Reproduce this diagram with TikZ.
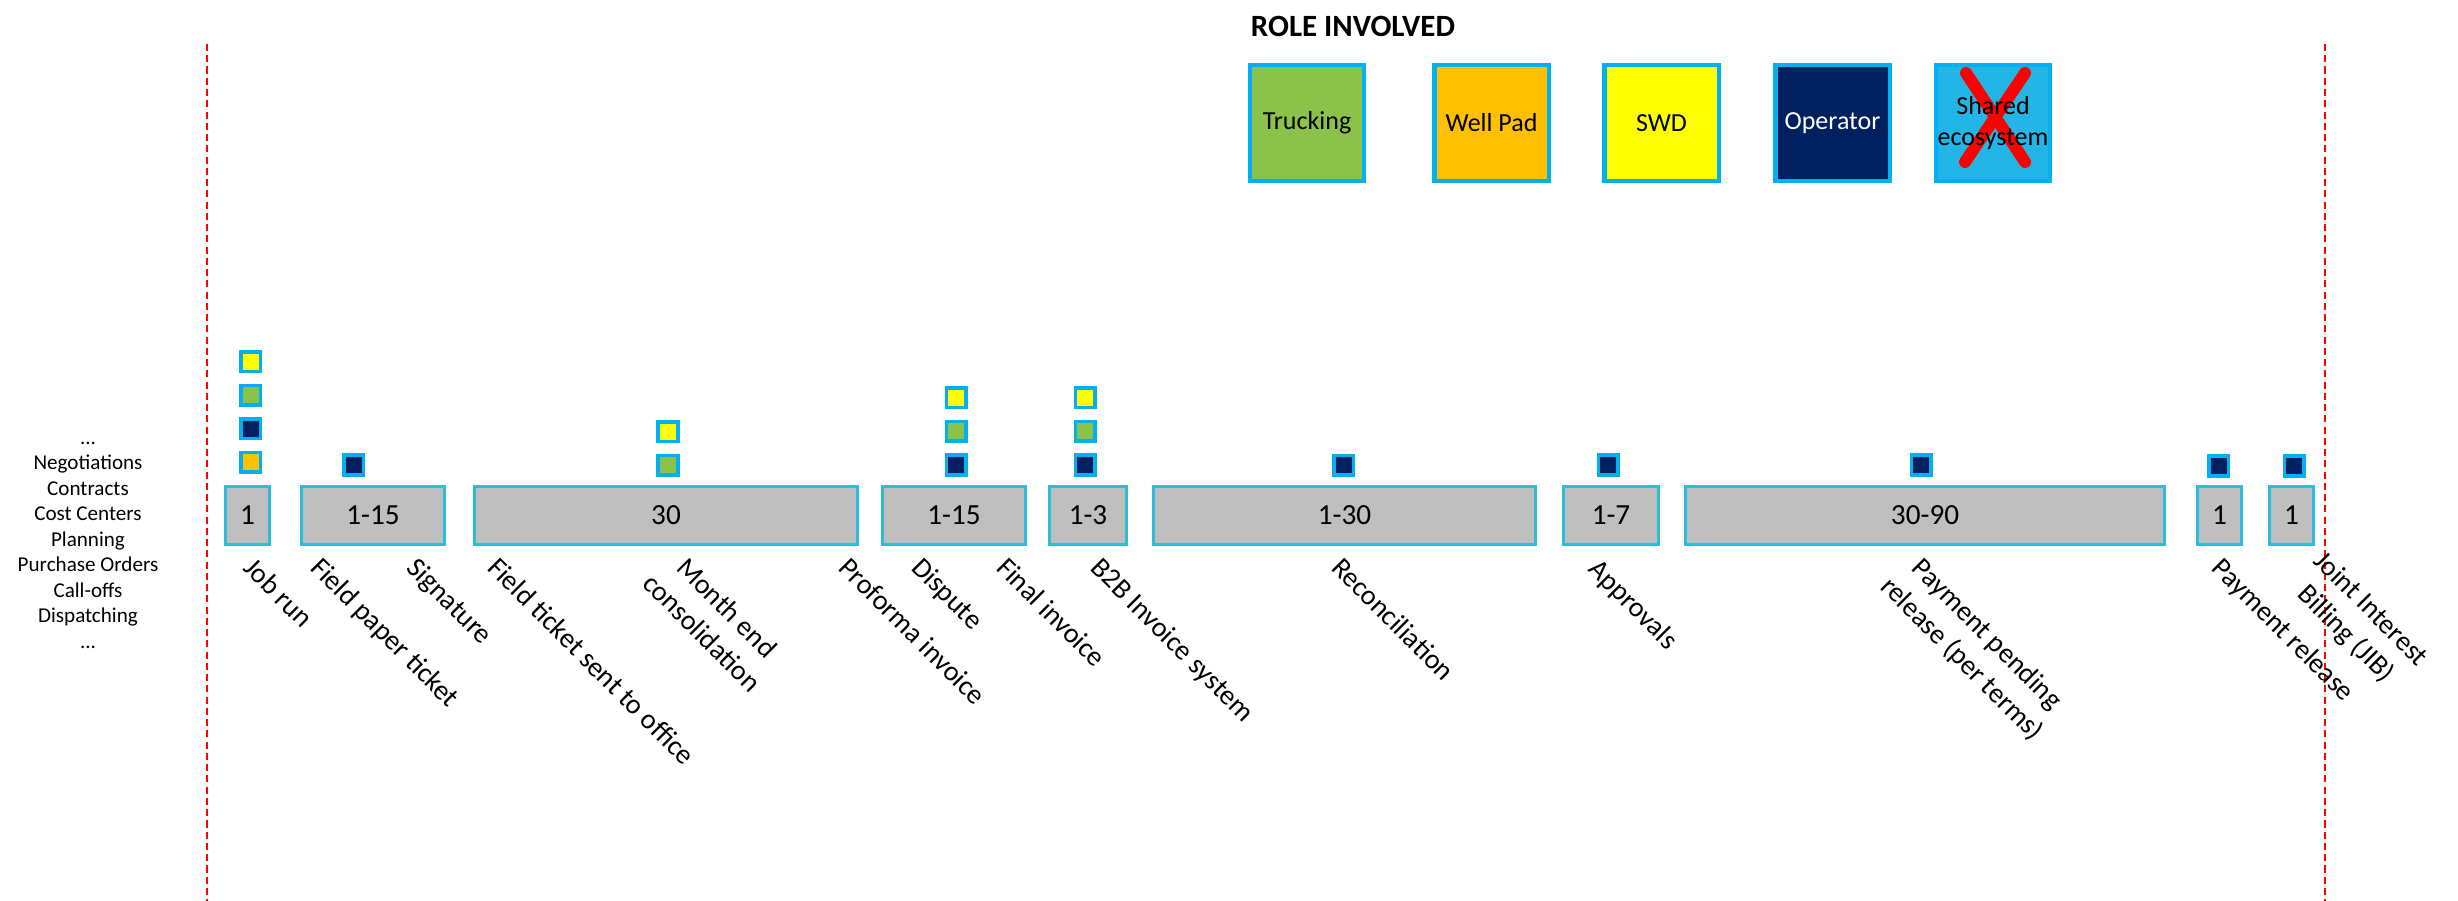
\documentclass[tikz,border=0pt]{standalone}
\usepackage{fontspec}
\setmainfont{Carlito}
\usetikzlibrary{positioning}

\definecolor{trucking}{RGB}{139,195,74}
\definecolor{wellpad}{RGB}{255,192,0}
\definecolor{swd}{RGB}{255,255,0}
\definecolor{operator}{RGB}{0,32,96}
\definecolor{rolecyan}{RGB}{0,176,240}
\definecolor{sharedfill}{RGB}{35,181,230}
\definecolor{bargray}{RGB}{191,191,191}
\definecolor{barcyan}{RGB}{43,190,214}

\begin{document}
\begin{tikzpicture}[x=0.01cm,y=-0.01cm,
  bar/.style={draw=barcyan,fill=bargray,line width=0.85pt,minimum height=0.58cm,
    inner sep=0pt,font=\fontsize{8.3}{10}\selectfont},
  role/.style={draw=rolecyan,line width=1pt,minimum size=0.195cm,inner sep=0pt},
  legend/.style={draw=rolecyan,line width=1.15pt,minimum width=1.14cm,
    minimum height=1.16cm,inner sep=0pt,align=center,font=\fontsize{7.4}{8.9}\selectfont},
  crossed/.style={path picture={
    \draw[red,line width=3.4pt,line cap=round]
      ([shift={(-27,-50)}]path picture bounding box.center) -- ([shift={(32,39)}]path picture bounding box.center);
    \draw[red,line width=3.4pt,line cap=round]
      ([shift={(32,-50)}]path picture bounding box.center) -- ([shift={(-28,39)}]path picture bounding box.center);}},
  steplabel/.style={rotate=-45,anchor=north west,inner sep=0pt,align=center,
    font=\fontsize{8}{10}\selectfont},
  guide/.style={red,line width=0.43pt,dash pattern=on 2pt off 1.2pt},
  node distance=0.105cm]
  \useasboundingbox (0,0) rectangle (2458,901);

  % legend
  \node(role title)[font=\bfseries\fontsize{8.8}{10}\selectfont] at (1353,26) {ROLE INVOLVED};
  \node(trucking)[legend,fill=trucking] at (1307,123) {Trucking};
  \node(well pad)[legend,fill=wellpad] at (1491.5,123) {Well Pad};
  \node(swd)[legend,fill=swd] at (1661.5,123) {SWD};
  \node(operator)[legend,fill=operator,text=white] at (1832.5,123) {Operator};
  \node(shared)[legend,fill=sharedfill,crossed] at (1993,123) {Shared\\ecosystem};

  % time frame
  \draw[guide] (207,44) -- (207,901);
  \draw[guide] (2325,44) -- (2325,901);

  \node(topics)[anchor=north,align=center,font=\fontsize{6}{7.25}\selectfont] at (88,414)
    {\strut...\\Negotiations\\Contracts\\Cost Centers\\Planning\\Purchase Orders\\Call-offs\\Dispatching\\...};

  % durations
  \node(run)[bar,minimum width=0.44cm] at (247.5,515.5) {1};
  \node(ticket)[bar,minimum width=1.43cm] at (373,515.5) {1-15};
  \node(month)[bar,minimum width=3.83cm] at (666,515.5) {30};
  \node(dispute)[bar,minimum width=1.43cm] at (954,515.5) {1-15};
  \node(b2b)[bar,minimum width=0.77cm] at (1088,515.5) {1-3};
  \node(recon)[bar,minimum width=3.82cm] at (1344.5,515.5) {1-30};
  \node(approve)[bar,minimum width=0.95cm] at (1611,515.5) {1-7};
  \node(pending)[bar,minimum width=4.79cm] at (1925,515.5) {30-90};
  \node(release)[bar,minimum width=0.44cm] at (2219.5,515.5) {1};
  \node(jib)[bar,minimum width=0.44cm] at (2291.5,515.5) {1};

  % roles per step
  \node(run wp)[role,fill=wellpad] at (250.5,462.5) {};
  \node(run op)[role,fill=operator,above=of run wp] {};
  \node(run tr)[role,fill=trucking,above=of run op] {};
  \node(run swd)[role,fill=swd,above=of run tr] {};

  \node(ticket op)[role,fill=operator] at (353.5,465) {};

  \node(month tr)[role,fill=trucking] at (668,465.5) {};
  \node(month swd)[role,fill=swd,above=of month tr] {};

  \node(dispute op)[role,fill=operator] at (956,465) {};
  \node(dispute tr)[role,fill=trucking,above=of dispute op] {};
  \node(dispute swd)[role,fill=swd,above=of dispute tr] {};

  \node(b2b op)[role,fill=operator] at (1085,465) {};
  \node(b2b tr)[role,fill=trucking,above=of b2b op] {};
  \node(b2b swd)[role,fill=swd,above=of b2b tr] {};

  \node(recon op)[role,fill=operator] at (1343.5,465.5) {};
  \node(approve op)[role,fill=operator] at (1608,465) {};
  \node(pending op)[role,fill=operator] at (1921,465) {};
  \node(release op)[role,fill=operator] at (2218.5,466) {};
  \node(jib op)[role,fill=operator] at (2294,466) {};

  % steps
  \node(job run)[steplabel] at (256,554.5) {Job run};
  \node(paper ticket)[steplabel] at (323,554.5) {Field paper ticket};
  \node(signature)[steplabel] at (419,554.5) {Signature};
  \node(sent office)[steplabel] at (500,554.5) {Field ticket sent to office};
  \node(month end)[steplabel] at (680,545.5) {Month end\\consolidation};
  \node(proforma)[steplabel] at (851,554.5) {Proforma invoice};
  \node(dispute lbl)[steplabel] at (924,554.5) {Dispute};
  \node(final)[steplabel] at (1009,554.5) {Final invoice};
  \node(b2b lbl)[steplabel] at (1103,554.5) {B2B Invoice system};
  \node(reconciliation)[steplabel] at (1344,554.5) {Reconciliation};
  \node(approvals)[steplabel] at (1601,556) {Approvals};
  \node(payment pending)[steplabel] at (1918,548.5) {Payment pending\\release (per terms)};
  \node(payment release)[steplabel] at (2224,554.5) {Payment release};
  \node(joint billing)[steplabel] at (2326,547.5) {Joint Interest\\Billing (JIB)};
\end{tikzpicture}
\end{document}
